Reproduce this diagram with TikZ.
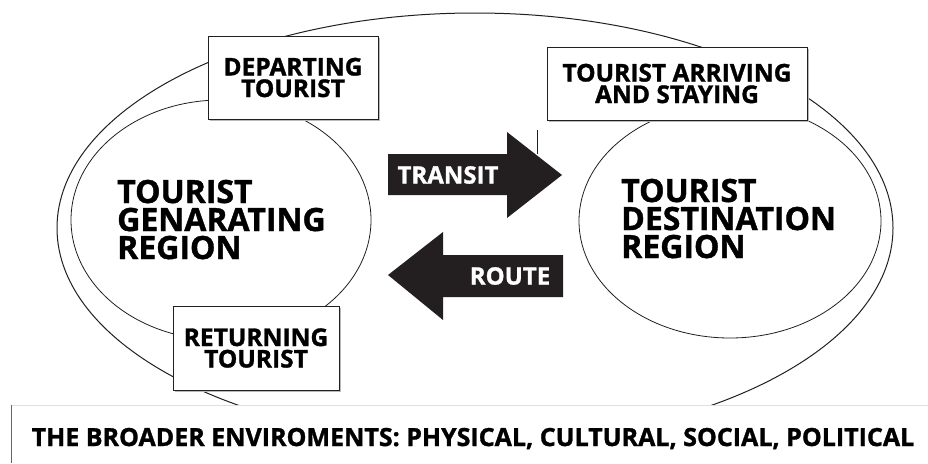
\documentclass[tikz,border=0pt]{standalone}
\usepackage{fontspec}
\setmainfont{Open Sans}[BoldFeatures={FakeBold=1.2}]
\usetikzlibrary{positioning,shadows}
\definecolor{ink}{HTML}{231F20}
\tikzset{
  region/.style={font=\bfseries\fontsize{32}{28}\selectfont,align=left,inner sep=0pt,anchor=base west},
  tag/.style={draw=ink,fill=white,line width=0.9pt,font=\bfseries\fontsize{24.5}{21.5}\selectfont,align=center,inner sep=0pt,
    drop shadow={shadow xshift=2pt,shadow yshift=-2pt,fill=gray!55,opacity=1}},
  flowtext/.style={font=\bfseries\fontsize{24}{24}\selectfont,text=white,inner sep=0pt},
  ring/.style={draw=ink,line width=0.8pt},
}

\begin{document}
\begin{tikzpicture}[x=1pt,y=-1pt]
  \useasboundingbox (0,0) rectangle (928,463);
  \fill[white] (0,0) rectangle (928,463);

  % the three regions
  \draw[ring,line width=1pt] (475,228) ellipse [x radius=418pt,y radius=215pt];
  \draw[ring] (221,220) ellipse [x radius=150pt,y radius=120pt];
  \draw[ring] (730,221) ellipse [x radius=151pt,y radius=117pt];
  \node[region] (gen) at (117,259) {TOURIST\\GENARATING\\REGION};
  \node[region] (dest) at (621,258) {TOURIST\\DESTINATION\\REGION};

  % transit and route arrows
  \fill[ink] (388,154) -- (507,154) -- (507,132) -- (562,175) -- (507,218) -- (507,195) -- (388,195) -- cycle;
  \fill[ink] (563,255) -- (443,255) -- (443,232) -- (388,275) -- (443,320) -- (443,297) -- (563,297) -- cycle;
  \draw[ink,line width=0.6pt] (537,130) -- (537,154);
  \node[flowtext] (transit) at (448,175) {TRANSIT};
  \node[flowtext] (route) at (510,276) {ROUTE};

  % environment strip
  \fill[white] (11,405) rectangle (928,463);
  \draw[gray!25] (11,405) -- (928,405);
  \draw[gray!80!black,line width=0.8pt] (11,405) -- (11,463);
  \node[font=\bfseries\fontsize{25}{24}\selectfont,inner sep=0pt,anchor=base] (env) at (473,446)
    {THE BROADER ENVIROMENTS: PHYSICAL, CULTURAL, SOCIAL, POLITICAL};

  % tourist flows
  \node[tag,minimum width=170pt,minimum height=83pt] (depart) at (293,77.5) {DEPARTING\\TOURIST};
  \node[tag,minimum width=260pt,minimum height=73pt] (arrive) at (677,83.5) {TOURIST ARRIVING\\AND STAYING};
  \node[tag,minimum width=166pt,minimum height=84pt] (return) at (256,348) {RETURNING\\TOURIST};
\end{tikzpicture}
\end{document}
